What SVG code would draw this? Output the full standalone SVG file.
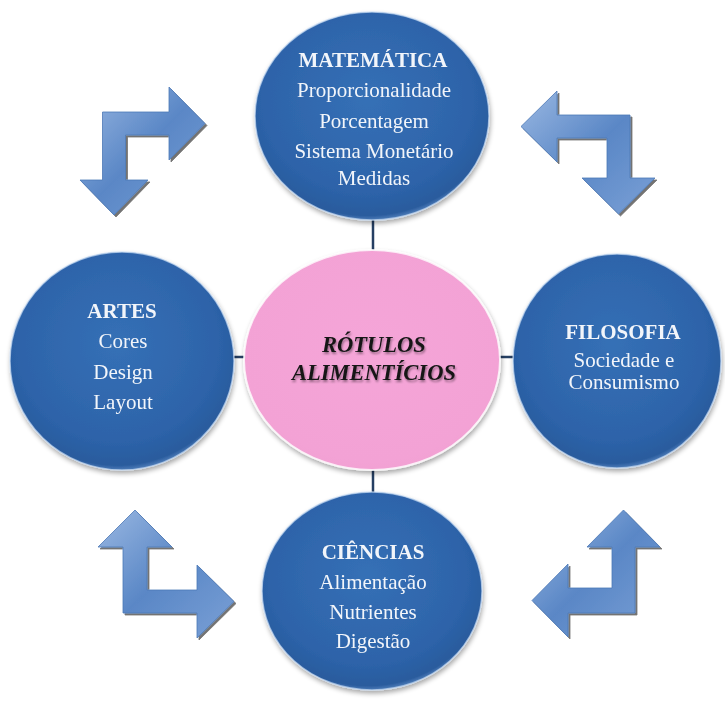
<svg xmlns="http://www.w3.org/2000/svg" width="725" height="702" viewBox="0 0 725 702">
<defs>
<radialGradient id="gBlue" cx="0.48" cy="0.42" r="0.6">
<stop offset="0" stop-color="#3570b6"/>
<stop offset="0.75" stop-color="#2d63a9"/>
<stop offset="0.93" stop-color="#295b9d"/>
<stop offset="1" stop-color="#6f9ad0"/>
</radialGradient>
<radialGradient id="gPink" cx="0.5" cy="0.45" r="0.6">
<stop offset="0" stop-color="#f5a5d8"/>
<stop offset="0.85" stop-color="#f3a2d5"/>
<stop offset="0.95" stop-color="#f1a0d2"/>
<stop offset="1" stop-color="#fbd6ec"/>
</radialGradient>
<linearGradient id="gArrow" x1="0" y1="0" x2="1" y2="1">
<stop offset="0" stop-color="#9ab8e2"/>
<stop offset="0.5" stop-color="#5a87c6"/>
<stop offset="1" stop-color="#7aa0d6"/>
</linearGradient>
<filter id="sh" x="-10%" y="-10%" width="130%" height="130%">
<feGaussianBlur in="SourceAlpha" stdDeviation="2.5"/>
<feOffset dx="1" dy="3" result="b"/>
<feComponentTransfer><feFuncA type="linear" slope="0.35"/></feComponentTransfer>
<feMerge><feMergeNode/><feMergeNode in="SourceGraphic"/></feMerge>
</filter>
<filter id="ash" x="-10%" y="-10%" width="130%" height="130%">
<feOffset in="SourceAlpha" dx="1.5" dy="2"/>
<feComponentTransfer><feFuncA type="linear" slope="0.55"/></feComponentTransfer>
<feMerge><feMergeNode/><feMergeNode in="SourceGraphic"/></feMerge>
</filter>
<filter id="tsh" x="-10%" y="-20%" width="130%" height="150%">
<feGaussianBlur in="SourceAlpha" stdDeviation="0.8"/>
<feOffset dx="1" dy="1.5"/>
<feComponentTransfer><feFuncA type="linear" slope="0.4"/></feComponentTransfer>
<feMerge><feMergeNode/><feMergeNode in="SourceGraphic"/></feMerge>
</filter>
</defs>
<style>
.blue{fill:url(#gBlue);stroke:#c7dbf3;stroke-width:1.5;stroke-opacity:0.7}
.pink{fill:url(#gPink);stroke:#ffffff;stroke-width:2;stroke-opacity:0.8}
.t{font-family:"Liberation Serif","Times New Roman",serif;font-size:21px;fill:#f2f5fa;text-anchor:middle}
.b{font-weight:bold}
.c{font-family:"Liberation Serif","Times New Roman",serif;font-size:22.5px;font-weight:bold;font-style:italic;fill:#161616;text-anchor:middle}
.arr{fill:url(#gArrow);stroke:#4d78b6;stroke-width:0.8}
.con{stroke:#253f63;stroke-width:2.5;fill:none}
</style>
<rect width="725" height="702" fill="#ffffff"/>
<g id="connectors">
<line class="con" x1="373" y1="218" x2="373" y2="252"/>
<line class="con" x1="373" y1="468" x2="373" y2="494"/>
<line class="con" x1="231" y1="357" x2="245" y2="357"/>
<line class="con" x1="498" y1="357" x2="515" y2="357"/>
</g>
<g id="arrows" filter="url(#ash)">
<path id="arrow-tl" class="arr" d="M102.5,112 L169,112 L169,87 L205,123.5 L169,160 L169,135 L125.5,135 L125.5,180 L148,180 L114,215 L80,180 L102.5,180 Z"/>
<path id="arrow-tr" class="arr" d="M630,115 L557,115 L557,91 L521,126.5 L557,162 L557,138 L607,138 L607,178 L582,178 L618.5,214 L655,178 L630,178 Z"/>
<path id="arrow-bl" class="arr" d="M123,547 L98,547 L135,510 L172,547 L147,547 L147,590 L197,590 L197,565 L234,601.5 L197,638 L197,613 L123,613 Z"/>
<path id="arrow-br" class="arr" d="M635,613 L568,613 L568,637 L532,600.5 L568,564 L568,588 L612,588 L612,547 L587,547 L623.5,510 L660,547 L635,547 Z"/>
</g>
<g id="node-matematica" filter="url(#sh)">
<ellipse class="blue" cx="372" cy="116" rx="117" ry="104"/>
<text class="t b" x="373" y="67">MATEMÁTICA</text>
<text class="t" x="374" y="97">Proporcionalidade</text>
<text class="t" x="374" y="128">Porcentagem</text>
<text class="t" x="374" y="158">Sistema Monetário</text>
<text class="t" x="374" y="185">Medidas</text>
</g>
<g id="node-artes" filter="url(#sh)">
<ellipse class="blue" cx="122" cy="361" rx="112" ry="109"/>
<text class="t b" x="122" y="318">ARTES</text>
<text class="t" x="123" y="348">Cores</text>
<text class="t" x="123" y="379">Design</text>
<text class="t" x="123" y="409">Layout</text>
</g>
<g id="node-filosofia" filter="url(#sh)">
<ellipse class="blue" cx="617" cy="361" rx="104" ry="107"/>
<text class="t b" x="623" y="339">FILOSOFIA</text>
<text class="t" x="624" y="367">Sociedade e</text>
<text class="t" x="624" y="389">Consumismo</text>
</g>
<g id="node-ciencias" filter="url(#sh)">
<ellipse class="blue" cx="372" cy="591" rx="110" ry="99"/>
<text class="t b" x="373" y="559">CIÊNCIAS</text>
<text class="t" x="373" y="589">Alimentação</text>
<text class="t" x="373" y="619">Nutrientes</text>
<text class="t" x="373" y="648">Digestão</text>
</g>
<g id="node-rotulos" filter="url(#sh)">
<ellipse class="pink" cx="372" cy="360" rx="128" ry="110"/>
<g filter="url(#tsh)">
<text class="c" x="374" y="352">RÓTULOS</text>
<text class="c" x="374" y="380">ALIMENTÍCIOS</text>
</g>
</g>
</svg>
